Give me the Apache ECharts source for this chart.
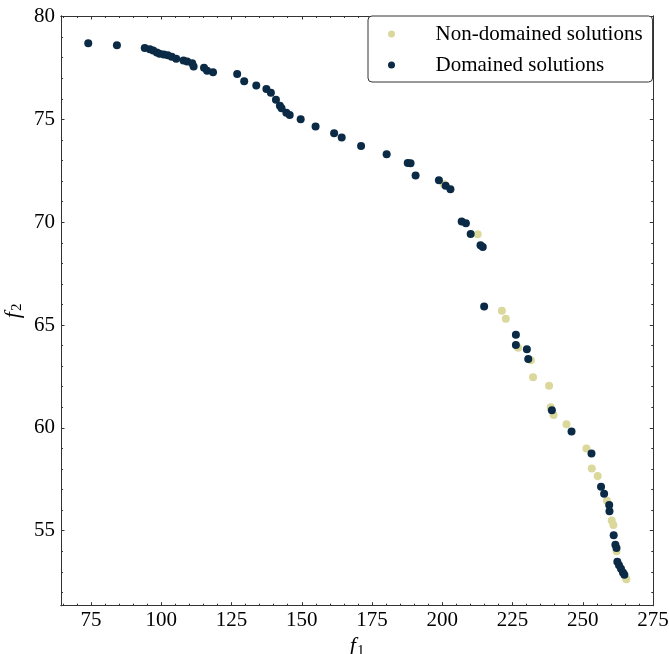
<!DOCTYPE html>
<html>
<head>
<meta charset="utf-8">
<script src="https://cdn.jsdelivr.net/npm/echarts@6/dist/echarts.min.js"></script>
<style>
  html, body { margin: 0; padding: 0; background: #fff; }
  #chart { width: 669px; height: 654px; }
</style>
</head>
<body>
<div id="chart"></div>
<script>
// Domained solutions (f1, f2)
const domX = [74.0, 84.2, 94.1, 95.9, 97.1, 98.4, 99.4, 100.9, 102.3, 103.7, 105.3, 107.9, 109.2, 111.0, 111.5,
  115.2, 116.3, 118.4, 127.0, 129.5, 133.8, 137.4, 139.0, 140.8, 142.2, 142.8, 144.5, 145.7, 149.6, 154.9,
  161.5, 164.2, 171.1, 180.2, 187.7, 188.7, 190.5, 198.8, 201.2, 202.9, 206.9, 208.4, 210.1, 213.6, 214.4,
  214.9, 226.2, 226.2, 230.1, 230.6, 239.0, 246.0, 253.1, 256.5, 257.6, 259.4, 259.5, 261.0, 261.6, 262.0,
  262.3, 262.9, 263.6, 264.3, 264.8];
const domY = [78.71, 78.61, 78.47, 78.41, 78.35, 78.25, 78.19, 78.16, 78.12, 78.05, 77.95, 77.86, 77.82, 77.73, 77.58,
  77.51, 77.37, 77.29, 77.21, 76.86, 76.65, 76.48, 76.30, 75.96, 75.66, 75.54, 75.33, 75.22, 75.01, 74.66,
  74.33, 74.12, 73.71, 73.31, 72.88, 72.87, 72.27, 72.04, 71.77, 71.61, 70.03, 69.95, 69.43, 68.88, 68.80,
  65.90, 64.53, 64.03, 63.82, 63.35, 60.86, 59.82, 58.75, 57.13, 56.79, 56.25, 55.94, 54.78, 54.32, 54.16,
  53.49, 53.32, 53.15, 52.96, 52.86];

// Non-domained solutions (f1, f2)
const nonX = [200.6, 212.6, 221.2, 222.6, 227.0, 231.5, 232.3, 238.0, 238.6, 239.6, 244.2, 251.3, 253.2, 255.3,
  258.6, 260.3, 260.9, 262.0, 265.5];
const nonY = [71.85, 69.42, 65.69, 65.30, 63.89, 63.29, 62.46, 62.05, 61.00, 60.63, 60.18, 58.99, 58.02, 57.66,
  56.46, 55.49, 55.28, 54.00, 52.64];

// Axis ticks
const xTicks = [75, 100, 125, 150, 175, 200, 225, 250, 275];
const yTicks = [55, 60, 65, 70, 75, 80];
const xMinorStep = 5;
const yMinorStep = 1;
const xRange = [64.3, 275.1];
const yRange = [51.35, 80.03];

const pairs = (xs, ys) => xs.map((x, i) => [x, ys[i]]);

function minorValues(range, step, majors) {
  const out = [];
  const start = Math.ceil(range[0] / step) * step;
  for (let v = start; v <= range[1] + 1e-9; v += step) {
    const r = Math.round(v * 1000) / 1000;
    if (!majors.includes(r)) out.push(r);
  }
  return out;
}
const xMinor = minorValues(xRange, xMinorStep, xTicks);
const yMinor = minorValues(yRange, yMinorStep, yTicks);

const FONT = '"Liberation Serif", "DejaVu Serif", serif';
const FS = 21;
const LINE = { show: true, lineStyle: { color: '#333', width: 1 } };

function xAxisDef(pos, values, len, labels, extra) {
  return Object.assign({
    type: 'value', position: pos, min: xRange[0], max: xRange[1],
    axisLine: LINE,
    splitLine: { show: false },
    axisTick: { show: true, inside: true, length: len, customValues: values,
      lineStyle: { color: '#333', width: 1 } },
    axisLabel: labels ? { show: true, customValues: values, margin: 4,
      color: '#000', fontFamily: FONT, fontSize: FS } : { show: false }
  }, extra || {});
}
function yAxisDef(pos, values, len, labels, extra) {
  return Object.assign({
    type: 'value', position: pos, min: yRange[0], max: yRange[1],
    axisLine: LINE,
    splitLine: { show: false },
    axisTick: { show: true, inside: true, length: len, customValues: values,
      lineStyle: { color: '#333', width: 1 } },
    axisLabel: labels ? { show: true, customValues: values, margin: 6,
      color: '#000', fontFamily: FONT, fontSize: FS } : { show: false }
  }, extra || {});
}

const nameRich = {
  f: { fontFamily: FONT, fontStyle: 'italic', fontSize: 22, color: '#000' },
  s: { fontFamily: FONT, fontSize: 15, color: '#000', padding: [9, 0, 0, 1] }
};

const chart = echarts.init(document.getElementById('chart'), null, { renderer: 'canvas' });
chart.setOption({
  animation: false,
  backgroundColor: '#fff',
  grid: { left: 61, right: 15.7, top: 16, bottom: 48.3, containLabel: false,
    outerBoundsMode: 'none' },
  xAxis: [
    xAxisDef('bottom', xTicks, 3.5, true, {
      name: '{f|f}{s|1}', nameLocation: 'middle', nameGap: 29,
      nameTextStyle: { rich: nameRich }
    }),
    xAxisDef('top', xTicks, 3.5, false),
    xAxisDef('bottom', xMinor, 2, false),
    xAxisDef('top', xMinor, 2, false)
  ],
  yAxis: [
    yAxisDef('left', yTicks, 3.5, true, {
      name: '{f|f}{s|2}', nameLocation: 'middle', nameGap: 36, nameRotate: 90,
      nameMoveOverlap: false,
      nameTextStyle: { rich: nameRich }
    }),
    yAxisDef('right', yTicks, 3.5, false),
    yAxisDef('left', yMinor, 2, false),
    yAxisDef('right', yMinor, 2, false)
  ],
  legend: {
    data: ['Non-domained solutions', 'Domained solutions'],
    orient: 'vertical',
    left: 368, top: 16,
    padding: [7, 10, 6, 20],
    itemWidth: 20, itemHeight: 7, itemGap: 9,
    icon: 'circle',
    backgroundColor: '#fff',
    borderColor: '#333', borderWidth: 1, borderRadius: 4,
    textStyle: { fontFamily: FONT, fontSize: FS, color: '#000', lineHeight: 22,
      padding: [0, 0, 0, 29] }
  },
  series: [
    {
      name: 'Non-domained solutions', type: 'scatter',
      data: pairs(nonX, nonY), symbolSize: 8,
      itemStyle: { color: '#dad89a', opacity: 1 },
      xAxisIndex: 0, yAxisIndex: 0
    },
    {
      name: 'Domained solutions', type: 'scatter',
      data: pairs(domX, domY), symbolSize: 8,
      itemStyle: { color: '#0a2a46', opacity: 1 },
      xAxisIndex: 0, yAxisIndex: 0
    }
  ]
});
</script>
</body>
</html>
